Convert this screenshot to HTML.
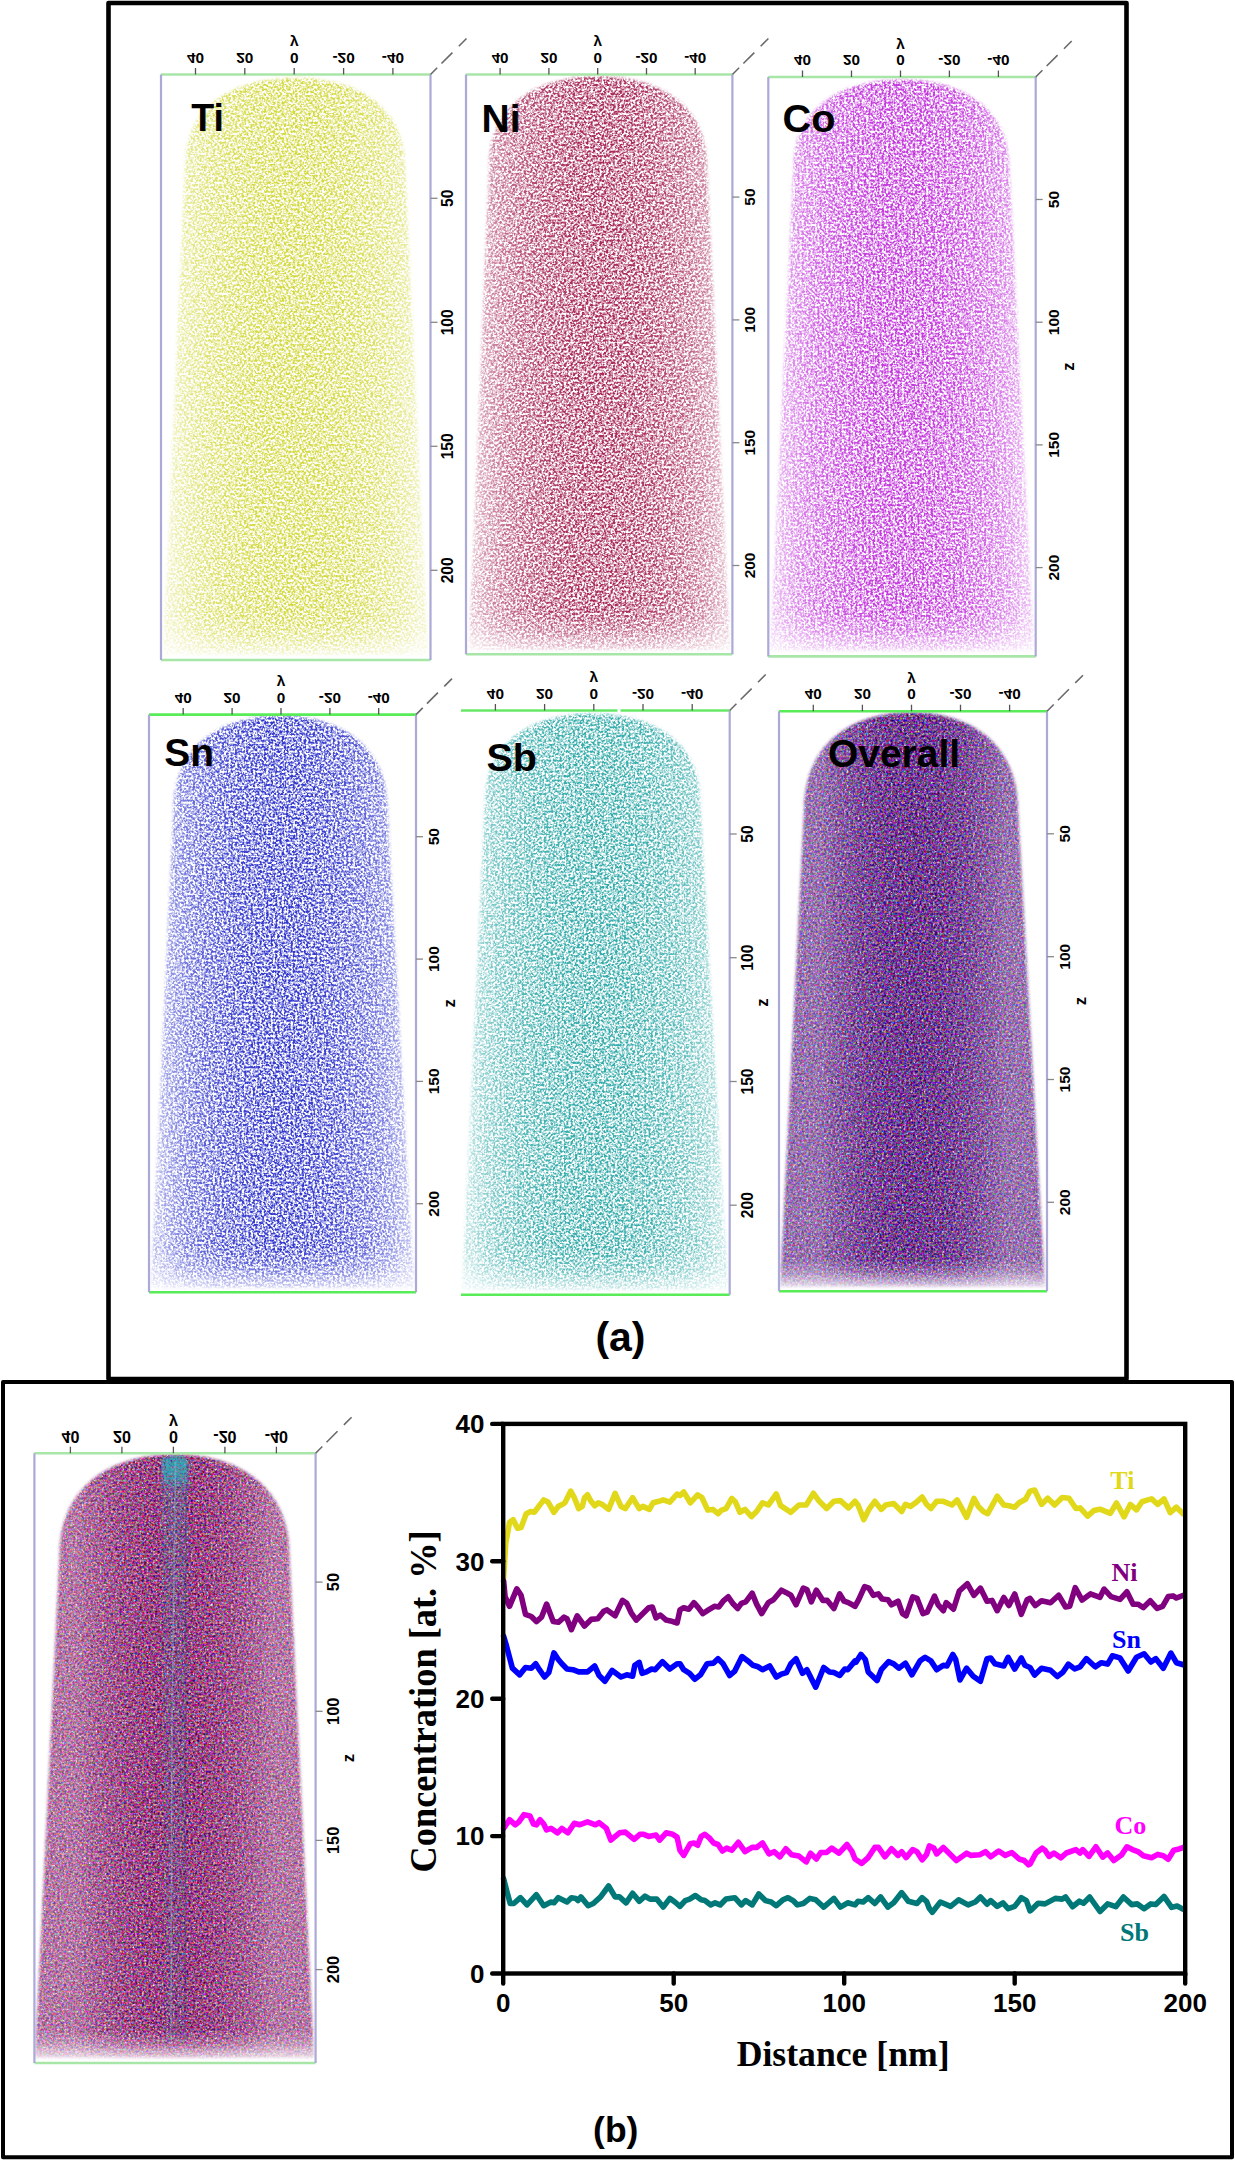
<!DOCTYPE html>
<html><head><meta charset="utf-8"><title>Figure</title>
<style> html,body{margin:0;padding:0;background:#fff;} svg{display:block;}</style>
</head><body>
<svg width="1235" height="2161" viewBox="0 0 1235 2161"><defs><linearGradient id="hg0" x1="0" y1="0" x2="1" y2="0"><stop offset="0" stop-color="#fff" stop-opacity="0.350"/><stop offset="0.03" stop-color="#fff" stop-opacity="0.350"/><stop offset="0.06" stop-color="#fff" stop-opacity="0.475"/><stop offset="0.1" stop-color="#fff" stop-opacity="0.600"/><stop offset="0.15" stop-color="#fff" stop-opacity="0.714"/><stop offset="0.2" stop-color="#fff" stop-opacity="0.800"/><stop offset="0.3" stop-color="#fff" stop-opacity="0.917"/><stop offset="0.4" stop-color="#fff" stop-opacity="0.980"/><stop offset="0.5" stop-color="#fff" stop-opacity="1.000"/><stop offset="0.6" stop-color="#fff" stop-opacity="0.980"/><stop offset="0.7" stop-color="#fff" stop-opacity="0.917"/><stop offset="0.8" stop-color="#fff" stop-opacity="0.800"/><stop offset="0.85" stop-color="#fff" stop-opacity="0.714"/><stop offset="0.9" stop-color="#fff" stop-opacity="0.600"/><stop offset="0.94" stop-color="#fff" stop-opacity="0.475"/><stop offset="0.97" stop-color="#fff" stop-opacity="0.350"/><stop offset="1" stop-color="#fff" stop-opacity="0.350"/></linearGradient><linearGradient id="vg0" x1="0" y1="0" x2="0" y2="1"><stop offset="0" stop-color="#fff"/><stop offset="0.920" stop-color="#fff"/><stop offset="0.954" stop-color="#fff" stop-opacity="0.75"/><stop offset="0.988" stop-color="#fff" stop-opacity="0.25"/><stop offset="1" stop-color="#fff" stop-opacity="0.2"/></linearGradient><mask id="m0" maskUnits="userSpaceOnUse" x="159" y="72.5" width="273.5" height="589.5"><rect x="159" y="72.5" width="273.5" height="589.5" fill="url(#vg0)"/></mask><filter id="f0_0" filterUnits="userSpaceOnUse" x="159" y="72.5" width="273.5" height="589.5" color-interpolation-filters="sRGB"><feTurbulence type="fractalNoise" baseFrequency="0.45" numOctaves="2" seed="7" result="n"/><feColorMatrix in="n" type="matrix" values="0 0 0 0 0.824 0 0 0 0 0.847 0 0 0 0 0.235 3.2 0 0 0 -1.149" result="s"/><feGaussianBlur in="SourceGraphic" stdDeviation="1.6" result="sg"/><feComposite in="s" in2="sg" operator="in" result="c"/><feGaussianBlur in="c" stdDeviation="0.45"/></filter><linearGradient id="hg1" x1="0" y1="0" x2="1" y2="0"><stop offset="0" stop-color="#fff" stop-opacity="0.350"/><stop offset="0.03" stop-color="#fff" stop-opacity="0.350"/><stop offset="0.06" stop-color="#fff" stop-opacity="0.475"/><stop offset="0.1" stop-color="#fff" stop-opacity="0.600"/><stop offset="0.15" stop-color="#fff" stop-opacity="0.714"/><stop offset="0.2" stop-color="#fff" stop-opacity="0.800"/><stop offset="0.3" stop-color="#fff" stop-opacity="0.917"/><stop offset="0.4" stop-color="#fff" stop-opacity="0.980"/><stop offset="0.5" stop-color="#fff" stop-opacity="1.000"/><stop offset="0.6" stop-color="#fff" stop-opacity="0.980"/><stop offset="0.7" stop-color="#fff" stop-opacity="0.917"/><stop offset="0.8" stop-color="#fff" stop-opacity="0.800"/><stop offset="0.85" stop-color="#fff" stop-opacity="0.714"/><stop offset="0.9" stop-color="#fff" stop-opacity="0.600"/><stop offset="0.94" stop-color="#fff" stop-opacity="0.475"/><stop offset="0.97" stop-color="#fff" stop-opacity="0.350"/><stop offset="1" stop-color="#fff" stop-opacity="0.350"/></linearGradient><linearGradient id="vg1" x1="0" y1="0" x2="0" y2="1"><stop offset="0" stop-color="#fff"/><stop offset="0.921" stop-color="#fff"/><stop offset="0.955" stop-color="#fff" stop-opacity="0.75"/><stop offset="0.989" stop-color="#fff" stop-opacity="0.25"/><stop offset="1" stop-color="#fff" stop-opacity="0.2"/></linearGradient><mask id="m1" maskUnits="userSpaceOnUse" x="464" y="72.5" width="270.4" height="583.8"><rect x="464" y="72.5" width="270.4" height="583.8" fill="url(#vg1)"/></mask><filter id="f1_0" filterUnits="userSpaceOnUse" x="464" y="72.5" width="270.4" height="583.8" color-interpolation-filters="sRGB"><feTurbulence type="fractalNoise" baseFrequency="0.45" numOctaves="2" seed="20" result="n"/><feColorMatrix in="n" type="matrix" values="0 0 0 0 0.659 0 0 0 0 0.157 0 0 0 0 0.345 3.2 0 0 0 -1.124" result="s"/><feGaussianBlur in="SourceGraphic" stdDeviation="1.6" result="sg"/><feComposite in="s" in2="sg" operator="in" result="c"/><feGaussianBlur in="c" stdDeviation="0.45"/></filter><linearGradient id="hg2" x1="0" y1="0" x2="1" y2="0"><stop offset="0" stop-color="#fff" stop-opacity="0.350"/><stop offset="0.03" stop-color="#fff" stop-opacity="0.350"/><stop offset="0.06" stop-color="#fff" stop-opacity="0.475"/><stop offset="0.1" stop-color="#fff" stop-opacity="0.600"/><stop offset="0.15" stop-color="#fff" stop-opacity="0.714"/><stop offset="0.2" stop-color="#fff" stop-opacity="0.800"/><stop offset="0.3" stop-color="#fff" stop-opacity="0.917"/><stop offset="0.4" stop-color="#fff" stop-opacity="0.980"/><stop offset="0.5" stop-color="#fff" stop-opacity="1.000"/><stop offset="0.6" stop-color="#fff" stop-opacity="0.980"/><stop offset="0.7" stop-color="#fff" stop-opacity="0.917"/><stop offset="0.8" stop-color="#fff" stop-opacity="0.800"/><stop offset="0.85" stop-color="#fff" stop-opacity="0.714"/><stop offset="0.9" stop-color="#fff" stop-opacity="0.600"/><stop offset="0.94" stop-color="#fff" stop-opacity="0.475"/><stop offset="0.97" stop-color="#fff" stop-opacity="0.350"/><stop offset="1" stop-color="#fff" stop-opacity="0.350"/></linearGradient><linearGradient id="vg2" x1="0" y1="0" x2="0" y2="1"><stop offset="0" stop-color="#fff"/><stop offset="0.919" stop-color="#fff"/><stop offset="0.953" stop-color="#fff" stop-opacity="0.75"/><stop offset="0.987" stop-color="#fff" stop-opacity="0.25"/><stop offset="1" stop-color="#fff" stop-opacity="0.2"/></linearGradient><mask id="m2" maskUnits="userSpaceOnUse" x="766.3" y="75" width="271.4000000000001" height="583.4"><rect x="766.3" y="75" width="271.4000000000001" height="583.4" fill="url(#vg2)"/></mask><filter id="f2_0" filterUnits="userSpaceOnUse" x="766.3" y="75" width="271.4000000000001" height="583.4" color-interpolation-filters="sRGB"><feTurbulence type="fractalNoise" baseFrequency="0.45" numOctaves="2" seed="33" result="n"/><feColorMatrix in="n" type="matrix" values="0 0 0 0 0.765 0 0 0 0 0.216 0 0 0 0 0.863 3.2 0 0 0 -1.099" result="s"/><feGaussianBlur in="SourceGraphic" stdDeviation="1.6" result="sg"/><feComposite in="s" in2="sg" operator="in" result="c"/><feGaussianBlur in="c" stdDeviation="0.45"/></filter><linearGradient id="hg3" x1="0" y1="0" x2="1" y2="0"><stop offset="0" stop-color="#fff" stop-opacity="0.350"/><stop offset="0.03" stop-color="#fff" stop-opacity="0.350"/><stop offset="0.06" stop-color="#fff" stop-opacity="0.475"/><stop offset="0.1" stop-color="#fff" stop-opacity="0.600"/><stop offset="0.15" stop-color="#fff" stop-opacity="0.714"/><stop offset="0.2" stop-color="#fff" stop-opacity="0.800"/><stop offset="0.3" stop-color="#fff" stop-opacity="0.917"/><stop offset="0.4" stop-color="#fff" stop-opacity="0.980"/><stop offset="0.5" stop-color="#fff" stop-opacity="1.000"/><stop offset="0.6" stop-color="#fff" stop-opacity="0.980"/><stop offset="0.7" stop-color="#fff" stop-opacity="0.917"/><stop offset="0.8" stop-color="#fff" stop-opacity="0.800"/><stop offset="0.85" stop-color="#fff" stop-opacity="0.714"/><stop offset="0.9" stop-color="#fff" stop-opacity="0.600"/><stop offset="0.94" stop-color="#fff" stop-opacity="0.475"/><stop offset="0.97" stop-color="#fff" stop-opacity="0.350"/><stop offset="1" stop-color="#fff" stop-opacity="0.350"/></linearGradient><linearGradient id="vg3" x1="0" y1="0" x2="0" y2="1"><stop offset="0" stop-color="#fff"/><stop offset="0.921" stop-color="#fff"/><stop offset="0.955" stop-color="#fff" stop-opacity="0.75"/><stop offset="0.989" stop-color="#fff" stop-opacity="0.25"/><stop offset="1" stop-color="#fff" stop-opacity="0.2"/></linearGradient><mask id="m3" maskUnits="userSpaceOnUse" x="147" y="712.6" width="271" height="581.6"><rect x="147" y="712.6" width="271" height="581.6" fill="url(#vg3)"/></mask><filter id="f3_0" filterUnits="userSpaceOnUse" x="147" y="712.6" width="271" height="581.6" color-interpolation-filters="sRGB"><feTurbulence type="fractalNoise" baseFrequency="0.45" numOctaves="2" seed="46" result="n"/><feColorMatrix in="n" type="matrix" values="0 0 0 0 0.196 0 0 0 0 0.216 0 0 0 0 0.804 3.2 0 0 0 -1.124" result="s"/><feGaussianBlur in="SourceGraphic" stdDeviation="1.6" result="sg"/><feComposite in="s" in2="sg" operator="in" result="c"/><feGaussianBlur in="c" stdDeviation="0.45"/></filter><linearGradient id="hg4" x1="0" y1="0" x2="1" y2="0"><stop offset="0" stop-color="#fff" stop-opacity="0.350"/><stop offset="0.03" stop-color="#fff" stop-opacity="0.350"/><stop offset="0.06" stop-color="#fff" stop-opacity="0.475"/><stop offset="0.1" stop-color="#fff" stop-opacity="0.600"/><stop offset="0.15" stop-color="#fff" stop-opacity="0.714"/><stop offset="0.2" stop-color="#fff" stop-opacity="0.800"/><stop offset="0.3" stop-color="#fff" stop-opacity="0.917"/><stop offset="0.4" stop-color="#fff" stop-opacity="0.980"/><stop offset="0.5" stop-color="#fff" stop-opacity="1.000"/><stop offset="0.6" stop-color="#fff" stop-opacity="0.980"/><stop offset="0.7" stop-color="#fff" stop-opacity="0.917"/><stop offset="0.8" stop-color="#fff" stop-opacity="0.800"/><stop offset="0.85" stop-color="#fff" stop-opacity="0.714"/><stop offset="0.9" stop-color="#fff" stop-opacity="0.600"/><stop offset="0.94" stop-color="#fff" stop-opacity="0.475"/><stop offset="0.97" stop-color="#fff" stop-opacity="0.350"/><stop offset="1" stop-color="#fff" stop-opacity="0.350"/></linearGradient><linearGradient id="vg4" x1="0" y1="0" x2="0" y2="1"><stop offset="0" stop-color="#fff"/><stop offset="0.921" stop-color="#fff"/><stop offset="0.955" stop-color="#fff" stop-opacity="0.75"/><stop offset="0.989" stop-color="#fff" stop-opacity="0.25"/><stop offset="1" stop-color="#fff" stop-opacity="0.2"/></linearGradient><mask id="m4" maskUnits="userSpaceOnUse" x="459" y="708.5" width="272.70000000000005" height="588.2"><rect x="459" y="708.5" width="272.70000000000005" height="588.2" fill="url(#vg4)"/></mask><filter id="f4_0" filterUnits="userSpaceOnUse" x="459" y="708.5" width="272.70000000000005" height="588.2" color-interpolation-filters="sRGB"><feTurbulence type="fractalNoise" baseFrequency="0.45" numOctaves="2" seed="59" result="n"/><feColorMatrix in="n" type="matrix" values="0 0 0 0 0.196 0 0 0 0 0.667 0 0 0 0 0.667 3.2 0 0 0 -1.149" result="s"/><feGaussianBlur in="SourceGraphic" stdDeviation="1.6" result="sg"/><feComposite in="s" in2="sg" operator="in" result="c"/><feGaussianBlur in="c" stdDeviation="0.45"/></filter><linearGradient id="hg5" x1="0" y1="0" x2="1" y2="0"><stop offset="0" stop-color="#fff" stop-opacity="0.720"/><stop offset="0.03" stop-color="#fff" stop-opacity="0.720"/><stop offset="0.06" stop-color="#fff" stop-opacity="0.720"/><stop offset="0.1" stop-color="#fff" stop-opacity="0.720"/><stop offset="0.15" stop-color="#fff" stop-opacity="0.720"/><stop offset="0.2" stop-color="#fff" stop-opacity="0.800"/><stop offset="0.3" stop-color="#fff" stop-opacity="0.917"/><stop offset="0.4" stop-color="#fff" stop-opacity="0.980"/><stop offset="0.5" stop-color="#fff" stop-opacity="1.000"/><stop offset="0.6" stop-color="#fff" stop-opacity="0.980"/><stop offset="0.7" stop-color="#fff" stop-opacity="0.917"/><stop offset="0.8" stop-color="#fff" stop-opacity="0.800"/><stop offset="0.85" stop-color="#fff" stop-opacity="0.720"/><stop offset="0.9" stop-color="#fff" stop-opacity="0.720"/><stop offset="0.94" stop-color="#fff" stop-opacity="0.720"/><stop offset="0.97" stop-color="#fff" stop-opacity="0.720"/><stop offset="1" stop-color="#fff" stop-opacity="0.720"/></linearGradient><linearGradient id="vg5" x1="0" y1="0" x2="0" y2="1"><stop offset="0" stop-color="#fff"/><stop offset="0.941" stop-color="#fff"/><stop offset="0.965" stop-color="#fff" stop-opacity="0.75"/><stop offset="0.989" stop-color="#fff" stop-opacity="0.25"/><stop offset="1" stop-color="#fff" stop-opacity="0.2"/></linearGradient><mask id="m5" maskUnits="userSpaceOnUse" x="777" y="709.2" width="272" height="584.0"><rect x="777" y="709.2" width="272" height="584.0" fill="url(#vg5)"/></mask><filter id="f5_0" filterUnits="userSpaceOnUse" x="777" y="709.2" width="272" height="584.0" color-interpolation-filters="sRGB"><feTurbulence type="fractalNoise" baseFrequency="0.45" numOctaves="2" seed="72" result="n"/><feColorMatrix in="n" type="matrix" values="1.35 0 0 0 -0.244 0 1.35 0 0 -0.448 0 0 1.35 0 -0.118 0 0 0 3.2 -0.210" result="s"/><feGaussianBlur in="SourceGraphic" stdDeviation="1.6" result="sg"/><feComposite in="s" in2="sg" operator="in" result="c"/><feGaussianBlur in="c" stdDeviation="0.7"/></filter><linearGradient id="hg6" x1="0" y1="0" x2="1" y2="0"><stop offset="0" stop-color="#fff" stop-opacity="0.720"/><stop offset="0.03" stop-color="#fff" stop-opacity="0.720"/><stop offset="0.06" stop-color="#fff" stop-opacity="0.720"/><stop offset="0.1" stop-color="#fff" stop-opacity="0.720"/><stop offset="0.15" stop-color="#fff" stop-opacity="0.720"/><stop offset="0.2" stop-color="#fff" stop-opacity="0.800"/><stop offset="0.3" stop-color="#fff" stop-opacity="0.917"/><stop offset="0.4" stop-color="#fff" stop-opacity="0.980"/><stop offset="0.5" stop-color="#fff" stop-opacity="1.000"/><stop offset="0.6" stop-color="#fff" stop-opacity="0.980"/><stop offset="0.7" stop-color="#fff" stop-opacity="0.917"/><stop offset="0.8" stop-color="#fff" stop-opacity="0.800"/><stop offset="0.85" stop-color="#fff" stop-opacity="0.720"/><stop offset="0.9" stop-color="#fff" stop-opacity="0.720"/><stop offset="0.94" stop-color="#fff" stop-opacity="0.720"/><stop offset="0.97" stop-color="#fff" stop-opacity="0.720"/><stop offset="1" stop-color="#fff" stop-opacity="0.720"/></linearGradient><linearGradient id="vg6" x1="0" y1="0" x2="0" y2="1"><stop offset="0" stop-color="#fff"/><stop offset="0.943" stop-color="#fff"/><stop offset="0.966" stop-color="#fff" stop-opacity="0.75"/><stop offset="0.989" stop-color="#fff" stop-opacity="0.25"/><stop offset="1" stop-color="#fff" stop-opacity="0.2"/></linearGradient><mask id="m6" maskUnits="userSpaceOnUse" x="32.4" y="1451.2" width="285.20000000000005" height="613.8"><rect x="32.4" y="1451.2" width="285.20000000000005" height="613.8" fill="url(#vg6)"/></mask><filter id="f6_0" filterUnits="userSpaceOnUse" x="32.4" y="1451.2" width="285.20000000000005" height="613.8" color-interpolation-filters="sRGB"><feTurbulence type="fractalNoise" baseFrequency="0.45" numOctaves="2" seed="85" result="n"/><feColorMatrix in="n" type="matrix" values="1.45 0 0 0 -0.145 0 1.45 0 0 -0.474 0 0 1.45 0 -0.227 0 0 0 3.2 -0.210" result="s"/><feGaussianBlur in="SourceGraphic" stdDeviation="1.6" result="sg"/><feComposite in="s" in2="sg" operator="in" result="c"/><feGaussianBlur in="c" stdDeviation="0.7"/></filter><filter id="fteal" filterUnits="userSpaceOnUse" x="150" y="1450" width="50" height="600" color-interpolation-filters="sRGB"><feTurbulence type="fractalNoise" baseFrequency="0.45" numOctaves="2" seed="91" result="n"/><feColorMatrix in="n" type="matrix" values="0 0 0 0 0.157 0 0 0 0 0.686 0 0 0 0 0.725 3.2 0 0 0 -0.689" result="s"/><feGaussianBlur in="SourceGraphic" stdDeviation="1.6" result="sg"/><feComposite in="s" in2="sg" operator="in" result="c"/><feGaussianBlur in="c" stdDeviation="0.45"/></filter><linearGradient id="tg" x1="0" y1="0" x2="0" y2="1"><stop offset="0" stop-color="#fff" stop-opacity="0.95"/><stop offset="0.035" stop-color="#fff" stop-opacity="0.8"/><stop offset="0.06" stop-color="#fff" stop-opacity="0.25"/><stop offset="0.3" stop-color="#fff" stop-opacity="0.16"/><stop offset="1" stop-color="#fff" stop-opacity="0.1"/></linearGradient></defs><rect width="1235" height="2161" fill="#fff"/><rect x="108.5" y="3" width="1018" height="1376" fill="none" stroke="#000" stroke-width="4.6" stroke-linejoin="round"/>
<rect x="3" y="1382" width="1229" height="775.3" fill="none" stroke="#000" stroke-width="4" stroke-linejoin="round"/>
<g mask="url(#m0)"><path d="M163,655 L185,165 C185,111.1 226.8,78 295,78 C363.2,78 405,111.1 405,165 L428,655 Z" fill="url(#hg0)" filter="url(#f0_0)"/></g>
<line x1="161" y1="74.5" x2="430.5" y2="74.5" stroke="#a8e6a8" stroke-width="2.6"/>
<line x1="161" y1="660" x2="430.5" y2="660" stroke="#a8e6a8" stroke-width="2.6"/>
<line x1="161" y1="74.5" x2="161" y2="660" stroke="#aba9d7" stroke-width="2.2"/>
<line x1="430.5" y1="74.5" x2="430.5" y2="660" stroke="#aba9d7" stroke-width="2.2"/>
<line x1="430.5" y1="74.5" x2="466.5" y2="38.5" stroke="#6a6a6a" stroke-width="1.6" stroke-dasharray="9.5 6 15.5 9 12 40"/>
<line x1="195.5" y1="68.0" x2="195.5" y2="74.5" stroke="#555" stroke-width="1.3"/>
<text transform="translate(195.5,52.5) scale(1,-1)" x="0" y="0" text-anchor="middle" font-family="'Liberation Sans', sans-serif" font-weight="bold" font-size="15.4">40</text>
<line x1="244.8" y1="68.0" x2="244.8" y2="74.5" stroke="#555" stroke-width="1.3"/>
<text transform="translate(244.8,52.5) scale(1,-1)" x="0" y="0" text-anchor="middle" font-family="'Liberation Sans', sans-serif" font-weight="bold" font-size="15.4">20</text>
<line x1="294.2" y1="68.0" x2="294.2" y2="74.5" stroke="#555" stroke-width="1.3"/>
<text transform="translate(294.2,52.5) scale(1,-1)" x="0" y="0" text-anchor="middle" font-family="'Liberation Sans', sans-serif" font-weight="bold" font-size="15.4">0</text>
<line x1="343.6" y1="68.0" x2="343.6" y2="74.5" stroke="#555" stroke-width="1.3"/>
<text transform="translate(343.6,52.5) scale(1,-1)" x="0" y="0" text-anchor="middle" font-family="'Liberation Sans', sans-serif" font-weight="bold" font-size="15.4">-20</text>
<line x1="392.9" y1="68.0" x2="392.9" y2="74.5" stroke="#555" stroke-width="1.3"/>
<text transform="translate(392.9,52.5) scale(1,-1)" x="0" y="0" text-anchor="middle" font-family="'Liberation Sans', sans-serif" font-weight="bold" font-size="15.4">-40</text>
<text transform="translate(294.2,36.0) scale(1,-1)" x="0" y="-2" text-anchor="middle" font-family="'Liberation Sans', sans-serif" font-weight="bold" font-size="15.4">y</text>
<line x1="430.5" y1="198.3" x2="437.5" y2="198.3" stroke="#888" stroke-width="1.3"/>
<text transform="translate(447.8,198.3) rotate(-90)" x="0" y="5.6" text-anchor="middle" font-family="'Liberation Sans', sans-serif" font-weight="bold" font-size="15.6">50</text>
<line x1="430.5" y1="322.3" x2="437.5" y2="322.3" stroke="#888" stroke-width="1.3"/>
<text transform="translate(447.8,322.3) rotate(-90)" x="0" y="5.6" text-anchor="middle" font-family="'Liberation Sans', sans-serif" font-weight="bold" font-size="15.6">100</text>
<line x1="430.5" y1="446.3" x2="437.5" y2="446.3" stroke="#888" stroke-width="1.3"/>
<text transform="translate(447.8,446.3) rotate(-90)" x="0" y="5.6" text-anchor="middle" font-family="'Liberation Sans', sans-serif" font-weight="bold" font-size="15.6">150</text>
<line x1="430.5" y1="570.3" x2="437.5" y2="570.3" stroke="#888" stroke-width="1.3"/>
<text transform="translate(447.8,570.3) rotate(-90)" x="0" y="5.6" text-anchor="middle" font-family="'Liberation Sans', sans-serif" font-weight="bold" font-size="15.6">200</text>
<text x="191.3" y="131.3" font-family="'Liberation Sans', sans-serif" font-weight="bold" font-size="38.5" textLength="32.7" lengthAdjust="spacingAndGlyphs">Ti</text>
<g mask="url(#m1)"><path d="M469,650 L489,164.6 C489,110.0 530.4,76.6 598,76.6 C665.6,76.6 707,110.0 707,164.6 L730,650 Z" fill="url(#hg1)" filter="url(#f1_0)"/></g>
<line x1="466" y1="74.5" x2="732.4" y2="74.5" stroke="#a8e6a8" stroke-width="2.6"/>
<line x1="466" y1="654.3" x2="732.4" y2="654.3" stroke="#a8e6a8" stroke-width="2.6"/>
<line x1="466" y1="74.5" x2="466" y2="654.3" stroke="#aba9d7" stroke-width="2.2"/>
<line x1="732.4" y1="74.5" x2="732.4" y2="654.3" stroke="#aba9d7" stroke-width="2.2"/>
<line x1="732.4" y1="74.5" x2="768.4" y2="38.5" stroke="#6a6a6a" stroke-width="1.6" stroke-dasharray="9.5 6 15.5 9 12 40"/>
<line x1="500.1" y1="68.0" x2="500.1" y2="74.5" stroke="#555" stroke-width="1.3"/>
<text transform="translate(500.1,52.5) scale(1,-1)" x="0" y="0" text-anchor="middle" font-family="'Liberation Sans', sans-serif" font-weight="bold" font-size="15.2">40</text>
<line x1="548.9" y1="68.0" x2="548.9" y2="74.5" stroke="#555" stroke-width="1.3"/>
<text transform="translate(548.9,52.5) scale(1,-1)" x="0" y="0" text-anchor="middle" font-family="'Liberation Sans', sans-serif" font-weight="bold" font-size="15.2">20</text>
<line x1="597.7" y1="68.0" x2="597.7" y2="74.5" stroke="#555" stroke-width="1.3"/>
<text transform="translate(597.7,52.5) scale(1,-1)" x="0" y="0" text-anchor="middle" font-family="'Liberation Sans', sans-serif" font-weight="bold" font-size="15.2">0</text>
<line x1="646.5" y1="68.0" x2="646.5" y2="74.5" stroke="#555" stroke-width="1.3"/>
<text transform="translate(646.5,52.5) scale(1,-1)" x="0" y="0" text-anchor="middle" font-family="'Liberation Sans', sans-serif" font-weight="bold" font-size="15.2">-20</text>
<line x1="695.2" y1="68.0" x2="695.2" y2="74.5" stroke="#555" stroke-width="1.3"/>
<text transform="translate(695.2,52.5) scale(1,-1)" x="0" y="0" text-anchor="middle" font-family="'Liberation Sans', sans-serif" font-weight="bold" font-size="15.2">-40</text>
<text transform="translate(597.7,36.0) scale(1,-1)" x="0" y="-2" text-anchor="middle" font-family="'Liberation Sans', sans-serif" font-weight="bold" font-size="15.2">y</text>
<line x1="732.4" y1="197.1" x2="739.4" y2="197.1" stroke="#888" stroke-width="1.3"/>
<text transform="translate(749.7,197.1) rotate(-90)" x="0" y="5.5" text-anchor="middle" font-family="'Liberation Sans', sans-serif" font-weight="bold" font-size="15.4">50</text>
<line x1="732.4" y1="319.9" x2="739.4" y2="319.9" stroke="#888" stroke-width="1.3"/>
<text transform="translate(749.7,319.9) rotate(-90)" x="0" y="5.5" text-anchor="middle" font-family="'Liberation Sans', sans-serif" font-weight="bold" font-size="15.4">100</text>
<line x1="732.4" y1="442.7" x2="739.4" y2="442.7" stroke="#888" stroke-width="1.3"/>
<text transform="translate(749.7,442.7) rotate(-90)" x="0" y="5.5" text-anchor="middle" font-family="'Liberation Sans', sans-serif" font-weight="bold" font-size="15.4">150</text>
<line x1="732.4" y1="565.5" x2="739.4" y2="565.5" stroke="#888" stroke-width="1.3"/>
<text transform="translate(749.7,565.5) rotate(-90)" x="0" y="5.5" text-anchor="middle" font-family="'Liberation Sans', sans-serif" font-weight="bold" font-size="15.4">200</text>
<text x="481.5" y="132.2" font-family="'Liberation Sans', sans-serif" font-weight="bold" font-size="38.5" textLength="39.0" lengthAdjust="spacingAndGlyphs">Ni</text>
<g mask="url(#m2)"><path d="M770,651 L793.5,167.8 C793.5,113.2 834.5,79.8 901.5,79.8 C968.5,79.8 1009.5,113.2 1009.5,167.8 L1034,651 Z" fill="url(#hg2)" filter="url(#f2_0)"/></g>
<line x1="768.3" y1="77" x2="1035.7" y2="77" stroke="#a8e6a8" stroke-width="2.6"/>
<line x1="768.3" y1="656.4" x2="1035.7" y2="656.4" stroke="#a8e6a8" stroke-width="2.6"/>
<line x1="768.3" y1="77" x2="768.3" y2="656.4" stroke="#aba9d7" stroke-width="2.2"/>
<line x1="1035.7" y1="77" x2="1035.7" y2="656.4" stroke="#aba9d7" stroke-width="2.2"/>
<line x1="1035.7" y1="77" x2="1071.7" y2="41" stroke="#6a6a6a" stroke-width="1.6" stroke-dasharray="9.5 6 15.5 9 12 40"/>
<line x1="802.5" y1="70.5" x2="802.5" y2="77" stroke="#555" stroke-width="1.3"/>
<text transform="translate(802.5,55.0) scale(1,-1)" x="0" y="0" text-anchor="middle" font-family="'Liberation Sans', sans-serif" font-weight="bold" font-size="15.3">40</text>
<line x1="851.5" y1="70.5" x2="851.5" y2="77" stroke="#555" stroke-width="1.3"/>
<text transform="translate(851.5,55.0) scale(1,-1)" x="0" y="0" text-anchor="middle" font-family="'Liberation Sans', sans-serif" font-weight="bold" font-size="15.3">20</text>
<line x1="900.5" y1="70.5" x2="900.5" y2="77" stroke="#555" stroke-width="1.3"/>
<text transform="translate(900.5,55.0) scale(1,-1)" x="0" y="0" text-anchor="middle" font-family="'Liberation Sans', sans-serif" font-weight="bold" font-size="15.3">0</text>
<line x1="949.4" y1="70.5" x2="949.4" y2="77" stroke="#555" stroke-width="1.3"/>
<text transform="translate(949.4,55.0) scale(1,-1)" x="0" y="0" text-anchor="middle" font-family="'Liberation Sans', sans-serif" font-weight="bold" font-size="15.3">-20</text>
<line x1="998.4" y1="70.5" x2="998.4" y2="77" stroke="#555" stroke-width="1.3"/>
<text transform="translate(998.4,55.0) scale(1,-1)" x="0" y="0" text-anchor="middle" font-family="'Liberation Sans', sans-serif" font-weight="bold" font-size="15.3">-40</text>
<text transform="translate(900.5,38.5) scale(1,-1)" x="0" y="-2" text-anchor="middle" font-family="'Liberation Sans', sans-serif" font-weight="bold" font-size="15.3">y</text>
<line x1="1035.7" y1="199.5" x2="1042.7" y2="199.5" stroke="#888" stroke-width="1.3"/>
<text transform="translate(1053.0,199.5) rotate(-90)" x="0" y="5.6" text-anchor="middle" font-family="'Liberation Sans', sans-serif" font-weight="bold" font-size="15.5">50</text>
<line x1="1035.7" y1="322.2" x2="1042.7" y2="322.2" stroke="#888" stroke-width="1.3"/>
<text transform="translate(1053.0,322.2) rotate(-90)" x="0" y="5.6" text-anchor="middle" font-family="'Liberation Sans', sans-serif" font-weight="bold" font-size="15.5">100</text>
<line x1="1035.7" y1="444.9" x2="1042.7" y2="444.9" stroke="#888" stroke-width="1.3"/>
<text transform="translate(1053.0,444.9) rotate(-90)" x="0" y="5.6" text-anchor="middle" font-family="'Liberation Sans', sans-serif" font-weight="bold" font-size="15.5">150</text>
<line x1="1035.7" y1="567.6" x2="1042.7" y2="567.6" stroke="#888" stroke-width="1.3"/>
<text transform="translate(1053.0,567.6) rotate(-90)" x="0" y="5.6" text-anchor="middle" font-family="'Liberation Sans', sans-serif" font-weight="bold" font-size="15.5">200</text>
<text transform="translate(1069.2,366.7) rotate(-90)" x="0" y="5" text-anchor="middle" font-family="'Liberation Sans', sans-serif" font-weight="bold" font-size="16.5">z</text>
<text x="782.5" y="132.2" font-family="'Liberation Sans', sans-serif" font-weight="bold" font-size="38.5" textLength="53.0" lengthAdjust="spacingAndGlyphs">Co</text>
<g mask="url(#m3)"><path d="M151,1288 L173.5,808 C173.5,751.0 214.2,716 280.5,716 C346.8,716 387.5,751.0 387.5,808 L414,1288 Z" fill="url(#hg3)" filter="url(#f3_0)"/></g>
<line x1="149" y1="714.6" x2="416" y2="714.6" stroke="#58ec58" stroke-width="2.6"/>
<line x1="149" y1="1292.2" x2="416" y2="1292.2" stroke="#58ec58" stroke-width="2.6"/>
<line x1="149" y1="714.6" x2="149" y2="1292.2" stroke="#aba9d7" stroke-width="2.2"/>
<line x1="416" y1="714.6" x2="416" y2="1292.2" stroke="#aba9d7" stroke-width="2.2"/>
<line x1="416" y1="714.6" x2="452" y2="678.6" stroke="#6a6a6a" stroke-width="1.6" stroke-dasharray="9.5 6 15.5 9 12 40"/>
<line x1="183.2" y1="708.1" x2="183.2" y2="714.6" stroke="#555" stroke-width="1.3"/>
<text transform="translate(183.2,692.6) scale(1,-1)" x="0" y="0" text-anchor="middle" font-family="'Liberation Sans', sans-serif" font-weight="bold" font-size="15.3">40</text>
<line x1="232.1" y1="708.1" x2="232.1" y2="714.6" stroke="#555" stroke-width="1.3"/>
<text transform="translate(232.1,692.6) scale(1,-1)" x="0" y="0" text-anchor="middle" font-family="'Liberation Sans', sans-serif" font-weight="bold" font-size="15.3">20</text>
<line x1="281.0" y1="708.1" x2="281.0" y2="714.6" stroke="#555" stroke-width="1.3"/>
<text transform="translate(281.0,692.6) scale(1,-1)" x="0" y="0" text-anchor="middle" font-family="'Liberation Sans', sans-serif" font-weight="bold" font-size="15.3">0</text>
<line x1="329.9" y1="708.1" x2="329.9" y2="714.6" stroke="#555" stroke-width="1.3"/>
<text transform="translate(329.9,692.6) scale(1,-1)" x="0" y="0" text-anchor="middle" font-family="'Liberation Sans', sans-serif" font-weight="bold" font-size="15.3">-20</text>
<line x1="378.7" y1="708.1" x2="378.7" y2="714.6" stroke="#555" stroke-width="1.3"/>
<text transform="translate(378.7,692.6) scale(1,-1)" x="0" y="0" text-anchor="middle" font-family="'Liberation Sans', sans-serif" font-weight="bold" font-size="15.3">-40</text>
<text transform="translate(281.0,676.1) scale(1,-1)" x="0" y="-2" text-anchor="middle" font-family="'Liberation Sans', sans-serif" font-weight="bold" font-size="15.3">y</text>
<line x1="416" y1="836.7" x2="423" y2="836.7" stroke="#888" stroke-width="1.3"/>
<text transform="translate(433.3,836.7) rotate(-90)" x="0" y="5.5" text-anchor="middle" font-family="'Liberation Sans', sans-serif" font-weight="bold" font-size="15.5">50</text>
<line x1="416" y1="959.1" x2="423" y2="959.1" stroke="#888" stroke-width="1.3"/>
<text transform="translate(433.3,959.1) rotate(-90)" x="0" y="5.5" text-anchor="middle" font-family="'Liberation Sans', sans-serif" font-weight="bold" font-size="15.5">100</text>
<line x1="416" y1="1081.4" x2="423" y2="1081.4" stroke="#888" stroke-width="1.3"/>
<text transform="translate(433.3,1081.4) rotate(-90)" x="0" y="5.5" text-anchor="middle" font-family="'Liberation Sans', sans-serif" font-weight="bold" font-size="15.5">150</text>
<line x1="416" y1="1203.7" x2="423" y2="1203.7" stroke="#888" stroke-width="1.3"/>
<text transform="translate(433.3,1203.7) rotate(-90)" x="0" y="5.5" text-anchor="middle" font-family="'Liberation Sans', sans-serif" font-weight="bold" font-size="15.5">200</text>
<text transform="translate(449.5,1003.4) rotate(-90)" x="0" y="5" text-anchor="middle" font-family="'Liberation Sans', sans-serif" font-weight="bold" font-size="16.5">z</text>
<text x="164.3" y="765.9" font-family="'Liberation Sans', sans-serif" font-weight="bold" font-size="38.5" textLength="49.8" lengthAdjust="spacingAndGlyphs">Sn</text>
<g mask="url(#m4)"><path d="M462,1290 L485.0,799.7 C485.0,746.4 525.9,713.7 592.5,713.7 C659.1,713.7 700.0,746.4 700.0,799.7 L728,1290 Z" fill="url(#hg4)" filter="url(#f4_0)"/></g>
<line x1="461" y1="710.5" x2="729.7" y2="710.5" stroke="#66e866" stroke-width="2.6"/>
<line x1="461" y1="1294.7" x2="729.7" y2="1294.7" stroke="#58ec58" stroke-width="2.6"/>
<line x1="729.7" y1="710.5" x2="729.7" y2="1294.7" stroke="#aba9d7" stroke-width="2.2"/>
<rect x="617.5" y="708.5" width="3" height="4" fill="#fff"/>
<line x1="729.7" y1="710.5" x2="765.7" y2="674.5" stroke="#6a6a6a" stroke-width="1.6" stroke-dasharray="9.5 6 15.5 9 12 40"/>
<line x1="495.4" y1="704.0" x2="495.4" y2="710.5" stroke="#555" stroke-width="1.3"/>
<text transform="translate(495.4,688.5) scale(1,-1)" x="0" y="0" text-anchor="middle" font-family="'Liberation Sans', sans-serif" font-weight="bold" font-size="15.4">40</text>
<line x1="544.6" y1="704.0" x2="544.6" y2="710.5" stroke="#555" stroke-width="1.3"/>
<text transform="translate(544.6,688.5) scale(1,-1)" x="0" y="0" text-anchor="middle" font-family="'Liberation Sans', sans-serif" font-weight="bold" font-size="15.4">20</text>
<line x1="593.8" y1="704.0" x2="593.8" y2="710.5" stroke="#555" stroke-width="1.3"/>
<text transform="translate(593.8,688.5) scale(1,-1)" x="0" y="0" text-anchor="middle" font-family="'Liberation Sans', sans-serif" font-weight="bold" font-size="15.4">0</text>
<line x1="643.0" y1="704.0" x2="643.0" y2="710.5" stroke="#555" stroke-width="1.3"/>
<text transform="translate(643.0,688.5) scale(1,-1)" x="0" y="0" text-anchor="middle" font-family="'Liberation Sans', sans-serif" font-weight="bold" font-size="15.4">-20</text>
<line x1="692.2" y1="704.0" x2="692.2" y2="710.5" stroke="#555" stroke-width="1.3"/>
<text transform="translate(692.2,688.5) scale(1,-1)" x="0" y="0" text-anchor="middle" font-family="'Liberation Sans', sans-serif" font-weight="bold" font-size="15.4">-40</text>
<text transform="translate(593.8,672.0) scale(1,-1)" x="0" y="-2" text-anchor="middle" font-family="'Liberation Sans', sans-serif" font-weight="bold" font-size="15.4">y</text>
<line x1="729.7" y1="834.0" x2="736.7" y2="834.0" stroke="#888" stroke-width="1.3"/>
<text transform="translate(747.0,834.0) rotate(-90)" x="0" y="5.6" text-anchor="middle" font-family="'Liberation Sans', sans-serif" font-weight="bold" font-size="15.6">50</text>
<line x1="729.7" y1="957.7" x2="736.7" y2="957.7" stroke="#888" stroke-width="1.3"/>
<text transform="translate(747.0,957.7) rotate(-90)" x="0" y="5.6" text-anchor="middle" font-family="'Liberation Sans', sans-serif" font-weight="bold" font-size="15.6">100</text>
<line x1="729.7" y1="1081.5" x2="736.7" y2="1081.5" stroke="#888" stroke-width="1.3"/>
<text transform="translate(747.0,1081.5) rotate(-90)" x="0" y="5.6" text-anchor="middle" font-family="'Liberation Sans', sans-serif" font-weight="bold" font-size="15.6">150</text>
<line x1="729.7" y1="1205.2" x2="736.7" y2="1205.2" stroke="#888" stroke-width="1.3"/>
<text transform="translate(747.0,1205.2) rotate(-90)" x="0" y="5.6" text-anchor="middle" font-family="'Liberation Sans', sans-serif" font-weight="bold" font-size="15.6">200</text>
<text transform="translate(763.2,1002.6) rotate(-90)" x="0" y="5" text-anchor="middle" font-family="'Liberation Sans', sans-serif" font-weight="bold" font-size="16.5">z</text>
<text x="486.4" y="771.2" font-family="'Liberation Sans', sans-serif" font-weight="bold" font-size="38.5" textLength="50.6" lengthAdjust="spacingAndGlyphs">Sb</text>
<g mask="url(#m5)"><path d="M780,1287 L804,809.6 C804,749.5 844.7,712.6 911,712.6 C977.3,712.6 1018,749.5 1018,809.6 L1045,1287 Z" fill="url(#hg5)" filter="url(#f5_0)"/></g>
<line x1="779" y1="711.2" x2="1047" y2="711.2" stroke="#58ec58" stroke-width="2.6"/>
<line x1="779" y1="1291.2" x2="1047" y2="1291.2" stroke="#58ec58" stroke-width="2.6"/>
<line x1="779" y1="711.2" x2="779" y2="1291.2" stroke="#aba9d7" stroke-width="2.2"/>
<line x1="1047" y1="711.2" x2="1047" y2="1291.2" stroke="#aba9d7" stroke-width="2.2"/>
<line x1="1047" y1="711.2" x2="1083" y2="675.2" stroke="#6a6a6a" stroke-width="1.6" stroke-dasharray="9.5 6 15.5 9 12 40"/>
<line x1="813.3" y1="704.7" x2="813.3" y2="711.2" stroke="#555" stroke-width="1.3"/>
<text transform="translate(813.3,689.2) scale(1,-1)" x="0" y="0" text-anchor="middle" font-family="'Liberation Sans', sans-serif" font-weight="bold" font-size="15.3">40</text>
<line x1="862.4" y1="704.7" x2="862.4" y2="711.2" stroke="#555" stroke-width="1.3"/>
<text transform="translate(862.4,689.2) scale(1,-1)" x="0" y="0" text-anchor="middle" font-family="'Liberation Sans', sans-serif" font-weight="bold" font-size="15.3">20</text>
<line x1="911.5" y1="704.7" x2="911.5" y2="711.2" stroke="#555" stroke-width="1.3"/>
<text transform="translate(911.5,689.2) scale(1,-1)" x="0" y="0" text-anchor="middle" font-family="'Liberation Sans', sans-serif" font-weight="bold" font-size="15.3">0</text>
<line x1="960.5" y1="704.7" x2="960.5" y2="711.2" stroke="#555" stroke-width="1.3"/>
<text transform="translate(960.5,689.2) scale(1,-1)" x="0" y="0" text-anchor="middle" font-family="'Liberation Sans', sans-serif" font-weight="bold" font-size="15.3">-20</text>
<line x1="1009.6" y1="704.7" x2="1009.6" y2="711.2" stroke="#555" stroke-width="1.3"/>
<text transform="translate(1009.6,689.2) scale(1,-1)" x="0" y="0" text-anchor="middle" font-family="'Liberation Sans', sans-serif" font-weight="bold" font-size="15.3">-40</text>
<text transform="translate(911.5,672.7) scale(1,-1)" x="0" y="-2" text-anchor="middle" font-family="'Liberation Sans', sans-serif" font-weight="bold" font-size="15.3">y</text>
<line x1="1047" y1="833.8" x2="1054" y2="833.8" stroke="#888" stroke-width="1.3"/>
<text transform="translate(1064.3,833.8) rotate(-90)" x="0" y="5.6" text-anchor="middle" font-family="'Liberation Sans', sans-serif" font-weight="bold" font-size="15.5">50</text>
<line x1="1047" y1="956.7" x2="1054" y2="956.7" stroke="#888" stroke-width="1.3"/>
<text transform="translate(1064.3,956.7) rotate(-90)" x="0" y="5.6" text-anchor="middle" font-family="'Liberation Sans', sans-serif" font-weight="bold" font-size="15.5">100</text>
<line x1="1047" y1="1079.5" x2="1054" y2="1079.5" stroke="#888" stroke-width="1.3"/>
<text transform="translate(1064.3,1079.5) rotate(-90)" x="0" y="5.6" text-anchor="middle" font-family="'Liberation Sans', sans-serif" font-weight="bold" font-size="15.5">150</text>
<line x1="1047" y1="1202.3" x2="1054" y2="1202.3" stroke="#888" stroke-width="1.3"/>
<text transform="translate(1064.3,1202.3) rotate(-90)" x="0" y="5.6" text-anchor="middle" font-family="'Liberation Sans', sans-serif" font-weight="bold" font-size="15.5">200</text>
<text transform="translate(1080.5,1001.2) rotate(-90)" x="0" y="5" text-anchor="middle" font-family="'Liberation Sans', sans-serif" font-weight="bold" font-size="16.5">z</text>
<text x="827.9" y="767.3" font-family="'Liberation Sans', sans-serif" font-weight="bold" font-size="38.5" textLength="132.2" lengthAdjust="spacingAndGlyphs">Overall</text>
<g mask="url(#m6)"><path d="M35,2058 L59.5,1554.6 C59.5,1492.6 103.2,1454.6 174.5,1454.6 C245.8,1454.6 289.5,1492.6 289.5,1554.6 L314,2058 Z" fill="url(#hg6)" filter="url(#f6_0)"/></g>
<path d="M162,1460 Q175,1452 188,1460 L186,2040 L164,2040 Z" fill="url(#tg)" filter="url(#fteal)"/>
<path d="M175.5,1462 L172,1720 L171,2040" stroke="#8fe8ee" stroke-opacity="0.3" stroke-width="1.6" fill="none"/>
<path d="M186,1486 L185,2040" stroke="#30206a" stroke-opacity="0.25" stroke-width="1.6" fill="none"/>
<line x1="34.4" y1="1453.2" x2="315.6" y2="1453.2" stroke="#a8e6a8" stroke-width="2.6"/>
<line x1="34.4" y1="2063" x2="315.6" y2="2063" stroke="#a8e6a8" stroke-width="2.6"/>
<line x1="34.4" y1="1453.2" x2="34.4" y2="2063" stroke="#aba9d7" stroke-width="2.2"/>
<line x1="315.6" y1="1453.2" x2="315.6" y2="2063" stroke="#aba9d7" stroke-width="2.2"/>
<line x1="315.6" y1="1453.2" x2="351.6" y2="1417.2" stroke="#6a6a6a" stroke-width="1.6" stroke-dasharray="9.5 6 15.5 9 12 40"/>
<line x1="70.4" y1="1446.7" x2="70.4" y2="1453.2" stroke="#555" stroke-width="1.3"/>
<text transform="translate(70.4,1431.2) scale(1,-1)" x="0" y="0" text-anchor="middle" font-family="'Liberation Sans', sans-serif" font-weight="bold" font-size="16.1">40</text>
<line x1="121.9" y1="1446.7" x2="121.9" y2="1453.2" stroke="#555" stroke-width="1.3"/>
<text transform="translate(121.9,1431.2) scale(1,-1)" x="0" y="0" text-anchor="middle" font-family="'Liberation Sans', sans-serif" font-weight="bold" font-size="16.1">20</text>
<line x1="173.4" y1="1446.7" x2="173.4" y2="1453.2" stroke="#555" stroke-width="1.3"/>
<text transform="translate(173.4,1431.2) scale(1,-1)" x="0" y="0" text-anchor="middle" font-family="'Liberation Sans', sans-serif" font-weight="bold" font-size="16.1">0</text>
<line x1="224.9" y1="1446.7" x2="224.9" y2="1453.2" stroke="#555" stroke-width="1.3"/>
<text transform="translate(224.9,1431.2) scale(1,-1)" x="0" y="0" text-anchor="middle" font-family="'Liberation Sans', sans-serif" font-weight="bold" font-size="16.1">-20</text>
<line x1="276.4" y1="1446.7" x2="276.4" y2="1453.2" stroke="#555" stroke-width="1.3"/>
<text transform="translate(276.4,1431.2) scale(1,-1)" x="0" y="0" text-anchor="middle" font-family="'Liberation Sans', sans-serif" font-weight="bold" font-size="16.1">-40</text>
<text transform="translate(173.4,1414.7) scale(1,-1)" x="0" y="-2" text-anchor="middle" font-family="'Liberation Sans', sans-serif" font-weight="bold" font-size="16.1">y</text>
<line x1="315.6" y1="1582.1" x2="322.6" y2="1582.1" stroke="#888" stroke-width="1.3"/>
<text transform="translate(332.9,1582.1) rotate(-90)" x="0" y="5.8" text-anchor="middle" font-family="'Liberation Sans', sans-serif" font-weight="bold" font-size="16.3">50</text>
<line x1="315.6" y1="1711.3" x2="322.6" y2="1711.3" stroke="#888" stroke-width="1.3"/>
<text transform="translate(332.9,1711.3) rotate(-90)" x="0" y="5.8" text-anchor="middle" font-family="'Liberation Sans', sans-serif" font-weight="bold" font-size="16.3">100</text>
<line x1="315.6" y1="1840.4" x2="322.6" y2="1840.4" stroke="#888" stroke-width="1.3"/>
<text transform="translate(332.9,1840.4) rotate(-90)" x="0" y="5.8" text-anchor="middle" font-family="'Liberation Sans', sans-serif" font-weight="bold" font-size="16.3">150</text>
<line x1="315.6" y1="1969.6" x2="322.6" y2="1969.6" stroke="#888" stroke-width="1.3"/>
<text transform="translate(332.9,1969.6) rotate(-90)" x="0" y="5.8" text-anchor="middle" font-family="'Liberation Sans', sans-serif" font-weight="bold" font-size="16.3">200</text>
<text transform="translate(349.1,1758.1) rotate(-90)" x="0" y="5" text-anchor="middle" font-family="'Liberation Sans', sans-serif" font-weight="bold" font-size="16.5">z</text>
<polyline points="503.6,1577.9 505.8,1542.9 509.5,1522.5 513.1,1519.6 517.5,1528.3 521.1,1527.6 526.2,1513.7 530.6,1511.5 534.3,1512.3 543.7,1499.9 548.1,1502.1 553.9,1512.3 558.3,1506.4 562.7,1504.3 564.9,1502.8 570.7,1491.1 574.3,1497.7 578.7,1508.6 582.3,1506.4 584.5,1497.7 587.5,1494.8 591.1,1501.3 594.7,1505.7 598.4,1502.8 602.0,1504.3 608.6,1509.4 615.1,1493.3 621.0,1506.4 625.3,1508.6 632.6,1497.7 639.2,1508.6 642.8,1506.4 649.4,1509.4 653.0,1502.8 658.9,1501.3 663.2,1499.9 669.8,1502.1 677.1,1494.0 680.0,1495.5 683.7,1491.9 690.3,1502.8 697.6,1494.8 702.0,1497.7 707.8,1510.1 712.9,1509.4 718.0,1513.7 721.6,1510.1 726.0,1508.6 731.8,1498.4 735.5,1502.1 739.9,1512.3 745.0,1509.4 751.5,1516.6 756.6,1511.5 762.5,1502.8 768.3,1505.0 776.3,1494.0 780.7,1505.7 790.9,1512.3 798.9,1505.0 806.2,1505.0 813.5,1493.3 819.3,1501.3 826.6,1508.6 833.9,1501.3 840.4,1500.6 848.4,1507.9 855.0,1501.3 858.0,1505.0 863.8,1519.6 868.9,1509.4 874.8,1501.3 881.3,1509.4 885.7,1505.0 893.7,1503.5 901.7,1511.5 905.4,1504.3 910.5,1506.4 915.6,1502.8 922.1,1497.0 926.5,1504.3 930.9,1508.6 936.7,1501.3 943.3,1501.3 952.0,1505.0 957.1,1499.9 961.5,1507.9 966.6,1517.4 973.9,1498.4 978.3,1506.4 983.4,1511.5 987.7,1513.7 992.1,1505.7 997.2,1496.2 1003.8,1505.0 1008.9,1505.7 1014.7,1507.2 1019.1,1502.8 1025.6,1499.2 1030.0,1491.1 1034.6,1490.0 1041.5,1504.4 1047.7,1498.2 1054.6,1505.1 1062.2,1497.5 1069.0,1498.2 1075.9,1508.5 1080.1,1507.9 1087.6,1516.1 1093.8,1510.6 1100.0,1509.2 1110.3,1513.4 1116.5,1503.0 1124.1,1516.8 1130.3,1504.4 1136.5,1509.9 1142.0,1501.7 1148.9,1499.6 1151.6,1498.9 1157.8,1504.4 1164.0,1498.9 1170.2,1512.7 1176.4,1507.2 1183.3,1514.0" fill="none" stroke="#e2d81a" stroke-width="5.6" stroke-linejoin="round" stroke-linecap="round"/>
<polyline points="503.6,1580.8 505.1,1596.8 509.5,1606.3 516.8,1588.8 521.1,1595.3 525.5,1614.3 531.3,1616.5 536.4,1621.6 541.5,1617.2 546.6,1604.1 553.2,1621.6 558.3,1622.3 564.1,1617.2 567.0,1618.7 571.4,1629.6 577.2,1615.8 584.5,1626.0 591.1,1619.4 597.7,1618.7 603.5,1611.4 607.1,1609.9 615.1,1615.8 622.4,1600.4 626.8,1603.4 631.2,1612.8 636.3,1620.1 641.4,1615.0 648.7,1607.7 652.3,1607.0 656.0,1617.9 660.3,1615.0 666.2,1620.1 670.5,1620.9 677.1,1623.0 680.0,1609.9 683.7,1607.7 688.8,1609.2 693.9,1602.6 698.3,1607.7 702.7,1613.6 708.5,1609.9 714.4,1606.3 718.7,1607.0 723.1,1601.2 728.2,1596.8 733.3,1604.1 737.7,1608.5 741.3,1603.4 745.7,1601.9 752.2,1593.2 756.6,1604.1 761.7,1613.6 768.3,1602.6 773.4,1599.7 781.4,1590.2 785.8,1592.4 790.9,1595.3 796.0,1604.8 803.3,1588.1 806.9,1589.5 811.3,1601.9 816.4,1590.2 822.9,1600.4 827.3,1600.4 833.9,1608.5 839.7,1593.9 844.1,1601.2 848.4,1602.6 855.0,1606.3 858.7,1599.7 864.6,1586.6 868.9,1588.1 873.3,1595.3 878.4,1593.9 882.1,1599.0 887.9,1599.7 891.5,1604.8 898.1,1601.2 902.5,1613.6 906.1,1615.8 912.7,1596.8 917.0,1598.3 922.9,1613.6 927.2,1612.1 934.5,1596.1 938.2,1604.8 943.3,1610.7 946.2,1602.6 953.5,1609.2 959.3,1591.0 967.3,1583.7 973.9,1595.3 980.4,1588.1 987.0,1601.2 992.1,1600.4 997.2,1610.7 1003.8,1597.5 1008.9,1605.5 1014.7,1593.9 1021.3,1614.3 1027.1,1599.7 1030.0,1598.3 1035.3,1605.6 1041.5,1600.8 1050.5,1602.8 1058.7,1595.3 1065.6,1607.0 1069.7,1606.3 1075.2,1587.7 1082.1,1600.1 1090.4,1593.9 1100.0,1597.3 1104.1,1589.1 1111.0,1596.6 1120.0,1599.4 1126.9,1591.8 1133.1,1604.2 1137.9,1604.2 1143.4,1607.6 1150.3,1600.8 1157.1,1608.3 1162.6,1606.3 1168.2,1596.6 1173.0,1595.9 1176.4,1598.0 1183.3,1595.3" fill="none" stroke="#800080" stroke-width="5.6" stroke-linejoin="round" stroke-linecap="round"/>
<polyline points="503.6,1636.2 506.6,1646.4 512.4,1668.2 519.7,1674.8 525.5,1667.5 531.3,1668.2 535.7,1663.8 539.4,1669.7 544.5,1677.0 548.8,1672.6 553.9,1652.9 558.3,1659.5 561.9,1663.8 567.0,1669.0 572.9,1669.7 578.7,1671.9 587.5,1671.9 594.7,1666.0 599.1,1675.5 604.9,1681.3 612.2,1670.4 621.0,1677.0 626.8,1674.8 632.6,1676.2 634.8,1665.3 639.2,1662.4 642.1,1673.3 646.5,1671.9 651.6,1669.0 655.2,1669.7 662.5,1661.7 669.8,1669.0 677.1,1663.8 680.0,1663.8 683.7,1669.7 689.6,1673.3 694.7,1679.2 700.5,1674.8 707.1,1663.8 713.6,1663.1 718.0,1658.7 723.1,1663.8 729.7,1675.5 734.8,1671.1 742.0,1656.6 747.9,1660.9 753.0,1665.3 758.1,1666.8 762.5,1669.7 769.7,1666.0 776.3,1677.0 781.4,1674.1 786.5,1672.6 790.9,1663.8 796.0,1658.7 802.5,1673.3 806.9,1669.7 815.7,1687.2 823.7,1667.5 829.5,1671.9 833.9,1672.6 839.7,1675.5 844.8,1669.0 847.7,1669.7 855.0,1660.9 855.8,1662.4 860.9,1654.4 865.3,1659.5 868.2,1671.9 877.0,1680.6 881.3,1669.7 888.6,1661.7 893.7,1663.8 898.8,1668.2 905.4,1663.1 911.9,1674.8 920.0,1660.9 925.1,1657.3 930.9,1660.9 936.7,1669.7 943.3,1665.3 946.9,1666.0 952.8,1654.4 955.7,1659.5 960.0,1679.9 966.6,1668.2 973.2,1676.2 980.4,1681.3 987.0,1658.7 990.7,1658.0 995.0,1663.8 1003.8,1666.0 1008.1,1657.3 1014.7,1669.0 1021.3,1658.0 1024.9,1665.3 1030.0,1667.5 1034.6,1675.1 1041.5,1668.2 1050.5,1670.3 1057.3,1676.5 1062.9,1672.3 1068.4,1664.1 1074.6,1668.9 1080.1,1666.8 1086.3,1658.6 1095.2,1666.8 1101.4,1662.7 1107.6,1664.1 1112.4,1655.8 1120.0,1657.9 1128.2,1671.0 1136.5,1657.2 1144.1,1653.8 1150.9,1662.0 1155.8,1658.6 1163.3,1668.2 1170.9,1653.1 1176.4,1662.7 1183.3,1664.8" fill="none" stroke="#0000ff" stroke-width="5.6" stroke-linejoin="round" stroke-linecap="round"/>
<polyline points="503.6,1828.4 509.5,1819.7 515.3,1824.8 518.9,1821.9 524.0,1814.6 529.9,1816.0 533.5,1824.0 536.4,1824.8 540.1,1819.7 543.7,1824.0 546.6,1829.9 551.0,1828.4 557.6,1832.8 561.9,1828.4 567.8,1832.8 574.3,1823.3 579.4,1824.8 587.5,1821.9 595.5,1824.8 599.1,1822.6 606.4,1828.4 610.8,1840.1 619.5,1832.8 625.3,1832.1 634.1,1839.4 639.9,1834.3 643.6,1834.3 648.7,1836.4 656.0,1835.0 659.6,1840.1 666.2,1832.8 672.7,1834.3 677.1,1837.2 680.0,1850.3 683.7,1855.4 690.3,1843.7 693.9,1843.0 697.6,1845.2 701.2,1836.4 704.9,1834.3 709.3,1837.9 713.6,1843.0 718.0,1844.5 722.4,1851.0 726.7,1848.1 731.8,1850.3 738.4,1842.3 745.0,1851.7 752.2,1847.4 756.6,1847.4 762.5,1843.0 769.0,1853.9 774.1,1851.7 779.9,1856.8 785.8,1848.8 791.6,1854.7 798.9,1856.1 806.2,1861.9 810.5,1853.2 816.4,1859.0 820.8,1852.5 826.6,1852.5 831.7,1848.1 839.0,1853.2 847.0,1844.5 852.1,1851.7 855.0,1859.0 861.7,1863.4 868.2,1857.6 874.8,1847.4 878.4,1847.4 885.0,1856.8 891.5,1848.8 898.1,1855.4 901.7,1851.7 906.1,1857.6 912.7,1849.6 917.0,1851.7 922.1,1859.8 926.5,1854.7 929.4,1845.9 933.8,1848.1 936.7,1853.9 943.3,1847.4 949.1,1853.2 956.4,1860.5 966.6,1853.2 971.0,1855.4 979.7,1854.7 985.5,1851.7 990.7,1856.8 998.7,1851.0 1005.2,1855.4 1011.8,1852.5 1019.1,1859.0 1024.2,1860.5 1028.5,1864.9 1030.0,1864.1 1036.0,1853.0 1042.2,1848.2 1045.0,1850.2 1049.1,1856.4 1053.9,1853.0 1060.8,1857.8 1066.3,1853.0 1075.9,1849.6 1080.1,1853.0 1082.8,1849.6 1089.0,1856.4 1095.9,1846.8 1102.8,1857.1 1107.6,1853.0 1113.8,1860.6 1121.4,1855.1 1126.9,1846.8 1132.4,1849.6 1137.9,1851.6 1143.4,1855.7 1151.6,1857.8 1157.8,1854.4 1163.3,1855.7 1168.2,1859.2 1173.7,1850.2 1179.2,1848.9 1183.3,1847.5" fill="none" stroke="#ff00ff" stroke-width="5.6" stroke-linejoin="round" stroke-linecap="round"/>
<polyline points="503.6,1878.7 506.6,1890.4 510.2,1903.5 513.8,1903.5 520.4,1897.7 527.0,1904.9 536.4,1894.7 543.7,1905.7 551.0,1902.0 553.9,1902.8 558.3,1897.7 567.0,1902.0 571.4,1897.7 575.8,1898.4 578.0,1900.6 580.9,1896.9 588.2,1905.7 593.3,1903.5 600.6,1896.9 608.6,1886.0 615.1,1896.9 619.5,1896.9 626.1,1902.8 632.6,1893.3 639.2,1901.3 645.0,1896.2 650.1,1899.1 656.7,1899.1 663.2,1907.1 669.8,1898.4 674.9,1902.0 680.0,1906.4 685.2,1900.6 689.6,1899.1 695.4,1895.5 701.2,1899.8 704.9,1900.6 710.7,1904.9 715.1,1902.8 720.2,1904.9 726.0,1899.1 734.8,1897.7 741.3,1904.9 745.7,1900.6 752.2,1904.9 758.8,1894.0 765.4,1900.6 771.2,1902.0 776.3,1905.7 782.9,1899.8 788.0,1897.7 793.1,1900.6 797.4,1904.9 803.3,1903.5 809.8,1898.4 815.7,1899.8 823.7,1907.1 833.9,1898.4 840.4,1907.1 847.7,1902.8 855.0,1904.9 858.0,1901.3 863.1,1902.0 868.2,1897.7 874.8,1903.5 880.6,1896.9 887.9,1907.1 893.7,1902.8 901.7,1892.6 908.3,1901.3 917.0,1903.5 922.1,1897.7 926.5,1901.3 929.4,1908.6 932.3,1912.2 940.4,1902.0 950.6,1906.4 958.6,1899.8 968.1,1904.9 975.3,1902.0 980.4,1896.9 987.0,1904.2 990.7,1900.6 997.2,1906.4 1003.0,1902.8 1008.1,1908.6 1014.7,1906.4 1021.3,1897.7 1026.4,1900.6 1030.0,1910.8 1031.2,1910.1 1038.1,1903.2 1045.0,1903.9 1055.3,1898.4 1062.2,1899.1 1065.6,1897.0 1072.5,1906.7 1079.4,1901.2 1083.5,1903.2 1089.7,1897.0 1100.0,1911.5 1107.6,1903.9 1115.8,1906.7 1123.4,1897.0 1131.7,1904.6 1137.2,1903.9 1144.1,1908.7 1150.9,1903.9 1155.8,1904.6 1164.0,1896.4 1171.6,1907.4 1177.1,1906.0 1183.3,1909.4" fill="none" stroke="#007878" stroke-width="5.6" stroke-linejoin="round" stroke-linecap="round"/>
<rect x="503.2" y="1423.9" width="682.0" height="549.5999999999999" fill="none" stroke="#000" stroke-width="4.4"/>
<line x1="492.2" y1="1973.5" x2="503.2" y2="1973.5" stroke="#000" stroke-width="4.4" stroke-linecap="round"/>
<text x="484.5" y="1982.8" text-anchor="end" font-family="'Liberation Sans', sans-serif" font-weight="bold" font-size="26">0</text>
<line x1="492.2" y1="1836.1" x2="503.2" y2="1836.1" stroke="#000" stroke-width="4.4" stroke-linecap="round"/>
<text x="484.5" y="1845.4" text-anchor="end" font-family="'Liberation Sans', sans-serif" font-weight="bold" font-size="26">10</text>
<line x1="492.2" y1="1698.7" x2="503.2" y2="1698.7" stroke="#000" stroke-width="4.4" stroke-linecap="round"/>
<text x="484.5" y="1708.0" text-anchor="end" font-family="'Liberation Sans', sans-serif" font-weight="bold" font-size="26">20</text>
<line x1="492.2" y1="1561.3" x2="503.2" y2="1561.3" stroke="#000" stroke-width="4.4" stroke-linecap="round"/>
<text x="484.5" y="1570.6" text-anchor="end" font-family="'Liberation Sans', sans-serif" font-weight="bold" font-size="26">30</text>
<line x1="492.2" y1="1423.9" x2="503.2" y2="1423.9" stroke="#000" stroke-width="4.4" stroke-linecap="round"/>
<text x="484.5" y="1433.2" text-anchor="end" font-family="'Liberation Sans', sans-serif" font-weight="bold" font-size="26">40</text>
<line x1="503.2" y1="1973.5" x2="503.2" y2="1983.5" stroke="#000" stroke-width="4.4" stroke-linecap="round"/>
<text x="503.2" y="2012.3" text-anchor="middle" font-family="'Liberation Sans', sans-serif" font-weight="bold" font-size="26">0</text>
<line x1="673.7" y1="1973.5" x2="673.7" y2="1983.5" stroke="#000" stroke-width="4.4" stroke-linecap="round"/>
<text x="673.7" y="2012.3" text-anchor="middle" font-family="'Liberation Sans', sans-serif" font-weight="bold" font-size="26">50</text>
<line x1="844.2" y1="1973.5" x2="844.2" y2="1983.5" stroke="#000" stroke-width="4.4" stroke-linecap="round"/>
<text x="844.2" y="2012.3" text-anchor="middle" font-family="'Liberation Sans', sans-serif" font-weight="bold" font-size="26">100</text>
<line x1="1014.7" y1="1973.5" x2="1014.7" y2="1983.5" stroke="#000" stroke-width="4.4" stroke-linecap="round"/>
<text x="1014.7" y="2012.3" text-anchor="middle" font-family="'Liberation Sans', sans-serif" font-weight="bold" font-size="26">150</text>
<line x1="1185.2" y1="1973.5" x2="1185.2" y2="1983.5" stroke="#000" stroke-width="4.4" stroke-linecap="round"/>
<text x="1185.2" y="2012.3" text-anchor="middle" font-family="'Liberation Sans', sans-serif" font-weight="bold" font-size="26">200</text>
<text x="843.2" y="2065.5" text-anchor="middle" font-family="'Liberation Serif', serif" font-weight="bold" font-size="36.5" textLength="213" lengthAdjust="spacingAndGlyphs">Distance [nm]</text>
<text transform="translate(435.5,1701.4) rotate(-90)" x="0" y="0" text-anchor="middle" font-family="'Liberation Serif', serif" font-weight="bold" font-size="37" textLength="342" lengthAdjust="spacingAndGlyphs">Concentration [at. %]</text>
<text x="1110.3" y="1488.5" font-family="'Liberation Serif', serif" font-weight="bold" font-size="26" fill="#e2d81a">Ti</text>
<text x="1111.6" y="1580.7" font-family="'Liberation Serif', serif" font-weight="bold" font-size="26" fill="#800080">Ni</text>
<text x="1112" y="1648.2" font-family="'Liberation Serif', serif" font-weight="bold" font-size="26" fill="#0000ff">Sn</text>
<text x="1114.5" y="1834.0" font-family="'Liberation Serif', serif" font-weight="bold" font-size="26" fill="#ff00ff">Co</text>
<text x="1120" y="1940.7" font-family="'Liberation Serif', serif" font-weight="bold" font-size="26" fill="#007878">Sb</text>
<text x="595.4" y="1351" font-family="'Liberation Sans', sans-serif" font-weight="bold" font-size="41">(a)</text>
<text x="593.1" y="2141.5" font-family="'Liberation Sans', sans-serif" font-weight="bold" font-size="35.5">(b)</text></svg>
</body></html>
